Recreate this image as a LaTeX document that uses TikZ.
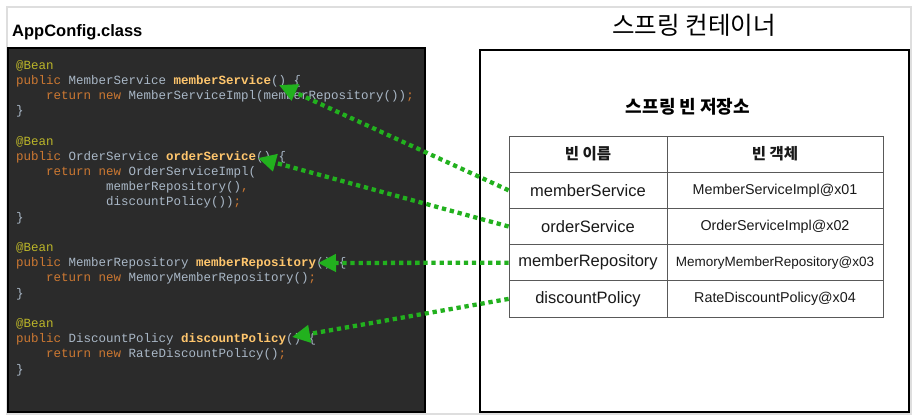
\documentclass[tikz,border=0pt]{standalone}
\usepackage{fontspec}
\setmainfont{Liberation Sans}
\newfontfamily\codefont{Liberation Mono}
\newfontfamily\kofont{Noto Sans CJK KR}
\usetikzlibrary{arrows.meta,positioning}
\definecolor{codebg}{HTML}{2B2B2B}
\definecolor{kwcolor}{HTML}{CC7832}
\definecolor{ancolor}{HTML}{BBB529}
\definecolor{fncolor}{HTML}{FFC66D}
\definecolor{idcolor}{HTML}{A9B7C6}
\definecolor{beangreen}{RGB}{34,177,30}
\newcommand{\kwd}[1]{\textcolor{kwcolor}{#1}}
\newcommand{\ann}[1]{\textcolor{ancolor}{#1}}
\newcommand{\mth}[1]{\textcolor{fncolor}{\bfseries #1}}

\begin{document}
\begin{tikzpicture}
		[x=1pt,y=-1pt,
		code/.style={anchor=base west,inner sep=0pt,text=idcolor,
			font=\codefont\fontsize{12.5}{15}\selectfont},
		cell/.style={draw=black!65,line width=0.8pt,inner sep=0pt,
			minimum height=36.2pt,text=black!90,font=\fontsize{16.5}{18}\selectfont},
		namecell/.style={cell,minimum width=158pt},
		objcell/.style={cell,minimum width=216pt,font=\fontsize{14.3}{16}\selectfont},
		headcell/.style={font=\kofont\bfseries\fontsize{15.5}{17}\selectfont},
		beanarrow/.style={draw=beangreen,line width=4.3pt,
			dash pattern=on 4.3pt off 3.8pt,
			-{Triangle[length=18pt,width=17pt]}}]
		\useasboundingbox (0,0) rectangle (912,418);
		%----------------- marco ----------------
		\draw[black!13,line width=1.5pt] (7,7) rectangle (911,414);
		%----------------- AppConfig ------------
		\node[anchor=west,inner sep=0pt,font=\bfseries\fontsize{16.5}{18}\selectfont]
		(appconfig) at (12,32) {AppConfig.class};
		\draw[fill=codebg,line width=2pt] (8,48) rectangle (425,412);
		
		\node[code] (l0) at (16,69) {\ann{@Bean}};
		\node[code] (l1) at (16,84.2) {\kwd{public} MemberService \mth{memberService}() \{};
		\node[code] (l2) at (46,99.4) {\kwd{return new} MemberServiceImpl(memberRepository())\kwd{;}};
		\node[code] (l3) at (16,114.6) {\}};
		
		\node[code] (l5) at (16,145) {\ann{@Bean}};
		\node[code] (l6) at (16,160.2) {\kwd{public} OrderService \mth{orderService}() \{};
		\node[code] (l7) at (46,175.4) {\kwd{return new} OrderServiceImpl(};
		\node[code] (l8) at (106,190.6) {memberRepository()\kwd{,}};
		\node[code] (l9) at (106,205.8) {discountPolicy())\kwd{;}};
		\node[code] (l10) at (16,221) {\}};
		
		\node[code] (l12) at (16,251.4) {\ann{@Bean}};
		\node[code] (l13) at (16,266.6) {\kwd{public} MemberRepository \mth{memberRepository}() \{};
		\node[code] (l14) at (46,281.8) {\kwd{return new} MemoryMemberRepository()\kwd{;}};
		\node[code] (l15) at (16,297) {\}};
		
		\node[code] (l17) at (16,327.4) {\ann{@Bean}};
		\node[code] (l18) at (16,342.6) {\kwd{public} DiscountPolicy \mth{discountPolicy}() \{};
		\node[code] (l19) at (46,357.8) {\kwd{return new} RateDiscountPolicy()\kwd{;}};
		\node[code] (l20) at (16,373) {\}};
		
		%----------------- contenedor -----------
		\node[font=\kofont\fontsize{24.5}{26}\selectfont] (container) at (694,25) {스프링 컨테이너};
		\draw[line width=2.2pt] (480,50) rectangle (909,412);
		\node[font=\kofont\bfseries\fontsize{18}{20}\selectfont] (store) at (688,107) {스프링 빈 저장소};
		
		%----------------- tabla ----------------
		\node[namecell,headcell] (hname) at (588,154.1) {빈 이름};
		\node[objcell,headcell] (hobj) at (775,154.1) {빈 객체};
		
		\node[namecell] (n1) at (588,190.3) {memberService};
		\node[objcell] (o1) at (775,190.3) {MemberServiceImpl@x01};
		\node[namecell] (n2) at (588,226.5) {orderService};
		\node[objcell] (o2) at (775,226.5) {OrderServiceImpl@x02};
		\node[namecell] (n3) at (588,262.7) {memberRepository};
		\node[objcell,font=\fontsize{13.5}{15}\selectfont] (o3) at (775,262.7) {MemoryMemberRepository@x03};
		\node[namecell] (n4) at (588,298.9) {discountPolicy};
		\node[objcell] (o4) at (775,298.9) {RateDiscountPolicy@x04};
		
		%----------------- flechas --------------
		\coordinate (t1) at (279,85);
		\coordinate (t2) at (258,158);
		\coordinate (t3) at (318,263);
		\coordinate (t4) at (292,337);
		\draw[beanarrow] (n1.west) -- (t1);
		\draw[beanarrow] (n2.west) -- (t2);
		\draw[beanarrow] (n3.west) -- (t3);
		\draw[beanarrow] (n4.west) -- (t4);
\end{tikzpicture}
\end{document}
